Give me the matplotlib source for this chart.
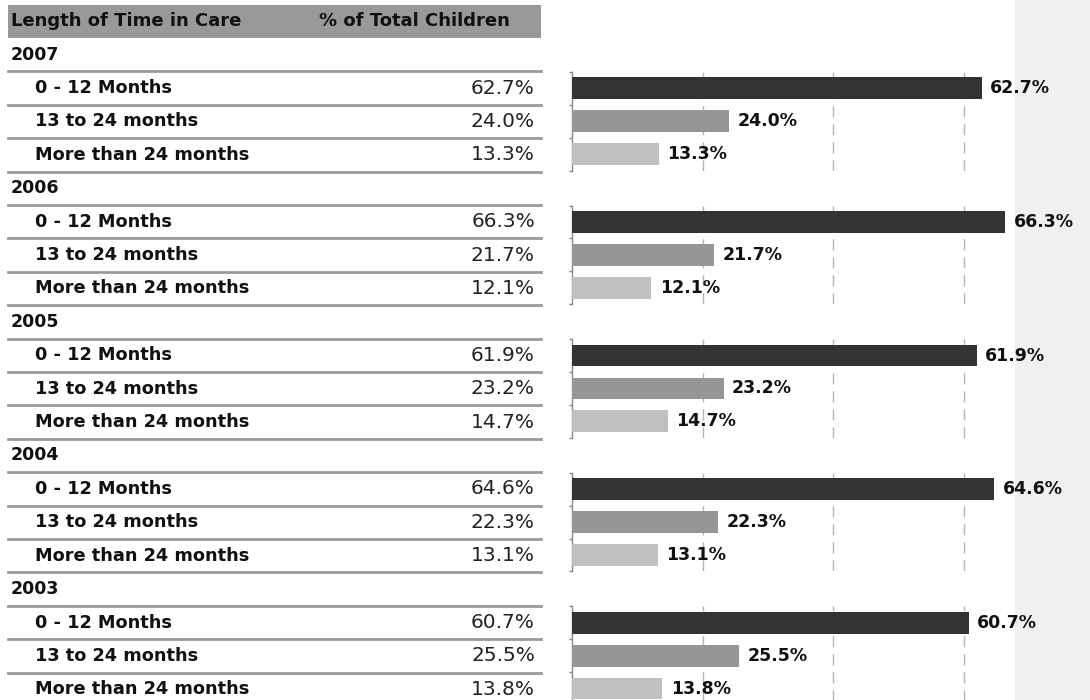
import numpy as np
import matplotlib.pyplot as plt
from matplotlib.patches import Rectangle

# ---------------------------------------------------------------
# Data: share of children by length of time in care, per year
# ---------------------------------------------------------------
years = ['2007', '2006', '2005', '2004', '2003']
categories = ['0 - 12 Months', '13 to 24 months', 'More than 24 months']
pct_0_12 = [62.7, 66.3, 61.9, 64.6, 60.7]
pct_13_24 = [24.0, 21.7, 23.2, 22.3, 25.5]
pct_over_24 = [13.3, 12.1, 14.7, 13.1, 13.8]

col_headers = ['Length of Time in Care', '% of Total Children']
bar_colors = ['#333333', '#969696', '#c0c0c0']
grid_ticks = [20, 40, 60]

FONT = 'DejaVu Sans'
W, H = 1090, 700
ROW_H = 33.4
HEAD_TOP, HEAD_BOT = 5, 38
TABLE_L, TABLE_R = 8, 541
AX_X0 = 572          # pixel position of 0 % on the bar scale
PX_PER_PCT = 6.535

fig = plt.figure(figsize=(W / 100, H / 100), dpi=100)

# background layer in pixel coordinates for the table part
bg = fig.add_axes([0, 0, 1, 1])
bg.set_xlim(0, W)
bg.set_ylim(H, 0)
bg.axis('off')

# light band along the right edge
bg.add_patch(Rectangle((1015, 0), W - 1015, H, color='#f0f0f0', lw=0, zorder=0))

# header band
bg.add_patch(Rectangle((TABLE_L, HEAD_TOP), TABLE_R - TABLE_L, HEAD_BOT - HEAD_TOP,
                       color='#999999', lw=0, zorder=1))
bg.text(11, (HEAD_TOP + HEAD_BOT) / 2, col_headers[0], family=FONT, weight='bold',
        fontsize=13, va='center', ha='left', color='#111111')
bg.text(319, (HEAD_TOP + HEAD_BOT) / 2, col_headers[1], family=FONT, weight='bold',
        fontsize=13, va='center', ha='left', color='#111111')

series = [pct_0_12, pct_13_24, pct_over_24]

row = 0
for g, year in enumerate(years):
    top = HEAD_BOT + row * ROW_H
    bg.text(11, top + ROW_H / 2, year, family=FONT, weight='bold', fontsize=12.5,
            va='center', ha='left', color='#111111')
    bg.plot([TABLE_L, TABLE_R], [top + ROW_H, top + ROW_H], color='#999999', lw=2, zorder=2)
    row += 1
    group_top = HEAD_BOT + row * ROW_H
    for k, cat in enumerate(categories):
        top = HEAD_BOT + row * ROW_H
        val = series[k][g]
        bg.text(35, top + ROW_H / 2, cat, family=FONT, weight='bold', fontsize=12.8,
                va='center', ha='left', color='#111111')
        bg.text(535, top + ROW_H / 2, f'{val:.1f}%', family=FONT, weight='normal',
                fontsize=14.5, va='center', ha='right', color='#222222')
        bg.plot([TABLE_L, TABLE_R], [top + ROW_H, top + ROW_H], color='#999999', lw=2, zorder=2)
        row += 1

    # bar panel for this year, spanning its three table rows
    ax_top = group_top + 0.5
    ax_h = 3 * ROW_H - 1.5
    ax = fig.add_axes([AX_X0 / W, 1 - (ax_top + ax_h) / H,
                       (W - AX_X0) / W, ax_h / H])
    ax.patch.set_alpha(0)
    vals = [s[g] for s in series]
    ypos = np.arange(len(categories))
    ax.barh(ypos, vals, height=0.66, color=bar_colors, zorder=3)
    for y, v in zip(ypos, vals):
        ax.text(v + 1.3, y, f'{v:.1f}%', family=FONT, weight='bold', fontsize=12.5,
                va='center', ha='left', color='#111111', zorder=4)
    ax.set_xlim(0, (W - AX_X0) / PX_PER_PCT)
    ax.set_ylim(2.5, -0.5)
    for t in grid_ticks:
        ax.axvline(t, color='#b4b4b4', lw=1, ls=(0, (8, 5)), zorder=1)
    ax.set_xticks([])
    ax.set_yticks([-0.5, 0.5, 1.5, 2.5])
    ax.set_yticklabels([])
    ax.tick_params(axis='y', length=2, color='#888888', width=1, direction='out')
    for side in ['top', 'right', 'bottom']:
        ax.spines[side].set_visible(False)
    ax.spines['left'].set_color('#888888')
    ax.spines['left'].set_linewidth(1)

fig.savefig('out.png', dpi=100)
